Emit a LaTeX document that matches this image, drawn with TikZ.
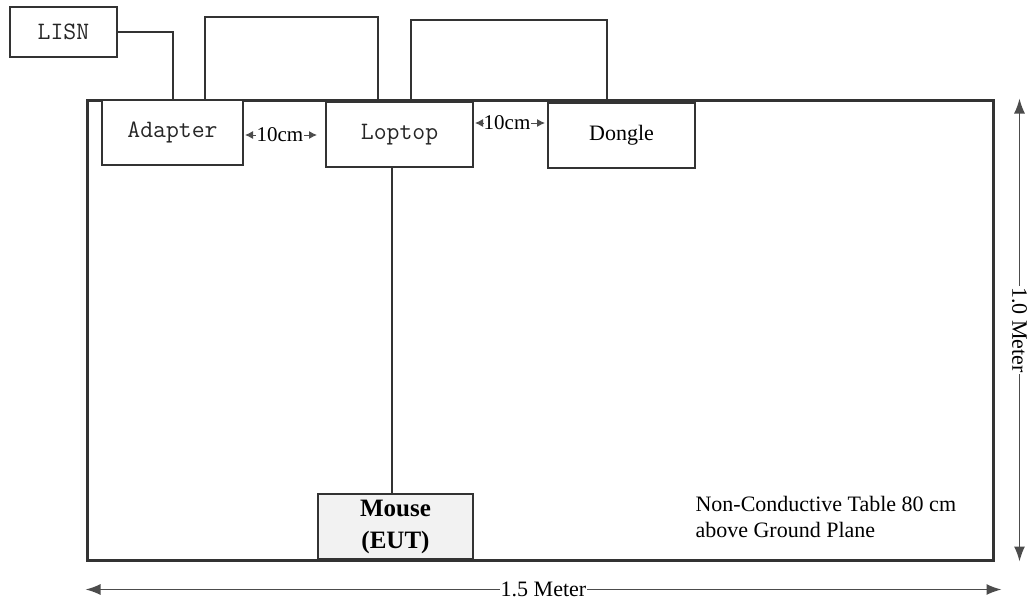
\documentclass[tikz,border=0pt]{standalone}
\usepackage{fontspec}
\setmainfont{Liberation Serif}
\usetikzlibrary{arrows.meta,calc,positioning}
\tikzset{>={Latex[length=15pt,width=11pt]}}
\tikzset{
	unit/.style={draw=black!80, line width=2pt, fill=white, inner sep=0pt, text=black!85, font=\ttfamily\fontsize{25}{28}\selectfont},
	wire/.style={draw=black!80, line width=2pt},
	dim/.style={draw=black!70, line width=1.5pt, <->},
	gap/.style={-{Latex[length=8pt,width=8pt]}, draw=black!70, line width=1pt},
	gaplabel/.style={inner sep=0.5pt, font=\fontsize{21}{24}\selectfont}
}
\begin{document}
\begin{tikzpicture}[x=1pt, y=-1pt]
		\useasboundingbox (0,0) rectangle (1031,600);
		% table
		\node[draw=black!80, line width=3pt, minimum width=906pt, minimum height=460pt, inner sep=0pt] (table) at (540,330) {};
		\node[anchor=west, align=left, font=\fontsize{22}{26}\selectfont] (note) at (692,517) {Non-Conductive Table 80 cm\\above Ground Plane};
		% units
		\node[unit, minimum width=107pt, minimum height=50pt] (lisn) at (63.5,32) {LISN};
		\node[unit, minimum width=141pt, minimum height=65pt] (adapter) at (172.5,132.5) {Adapter};
		\node[unit, minimum width=147pt, minimum height=65pt] (loptop) at (399.5,134.5) {Loptop};
		\node[unit, minimum width=147pt, minimum height=65pt, text=black, font=\fontsize{22}{26}\selectfont] (dongle) at (621.5,135.5) {Dongle};
		\node[unit, fill=black!5, text=black, minimum width=155pt, minimum height=65pt, align=center, font=\bfseries\fontsize{25}{32}\selectfont] (mouse) at (395.5,526.5) {Mouse\\(EUT)};
		% cables
		\draw[wire] (lisn.east) -| (adapter.north);
		\draw[wire] ([xshift=32.5pt]adapter.north) -- ++(0,-82) -| ([xshift=-21.5pt]loptop.north);
		\draw[wire] ([xshift=11.5pt]loptop.north) -- ++(0,-81) -| ([xshift=-14.5pt]dongle.north);
		\draw[wire] ([xshift=-7.5pt]loptop.south) -- ([xshift=-7.5pt]loptop.south |- mouse.north);
		% spacing
		\node[gaplabel] (gap1) at (280,135) {10cm};
		\draw[gap, shorten >=1pt] (gap1.west) -- (gap1.west -| adapter.east);
		\draw[gap, shorten >=8pt] (gap1.east) -- (gap1.east -| loptop.west);
		\node[gaplabel] (gap2) at (507,123) {10cm};
		\draw[gap, shorten >=1pt] (gap2.west) -- (gap2.west -| loptop.east);
		\draw[gap, shorten >=2pt] (gap2.east) -- (gap2.east -| dongle.west);
		% dimensions
		\draw[dim] ([xshift=25pt]table.north east) -- node[fill=white, inner sep=1pt, rotate=-90, font=\fontsize{22}{26}\selectfont]{1.0 Meter} ([xshift=25pt]table.south east);
		\draw[dim] ([yshift=-28pt]table.south west) -- node[fill=white, inner sep=1pt, font=\fontsize{22}{26}\selectfont]{1.5 Meter} ([xshift=7pt, yshift=-28pt]table.south east);
	\end{tikzpicture}
\end{document}
